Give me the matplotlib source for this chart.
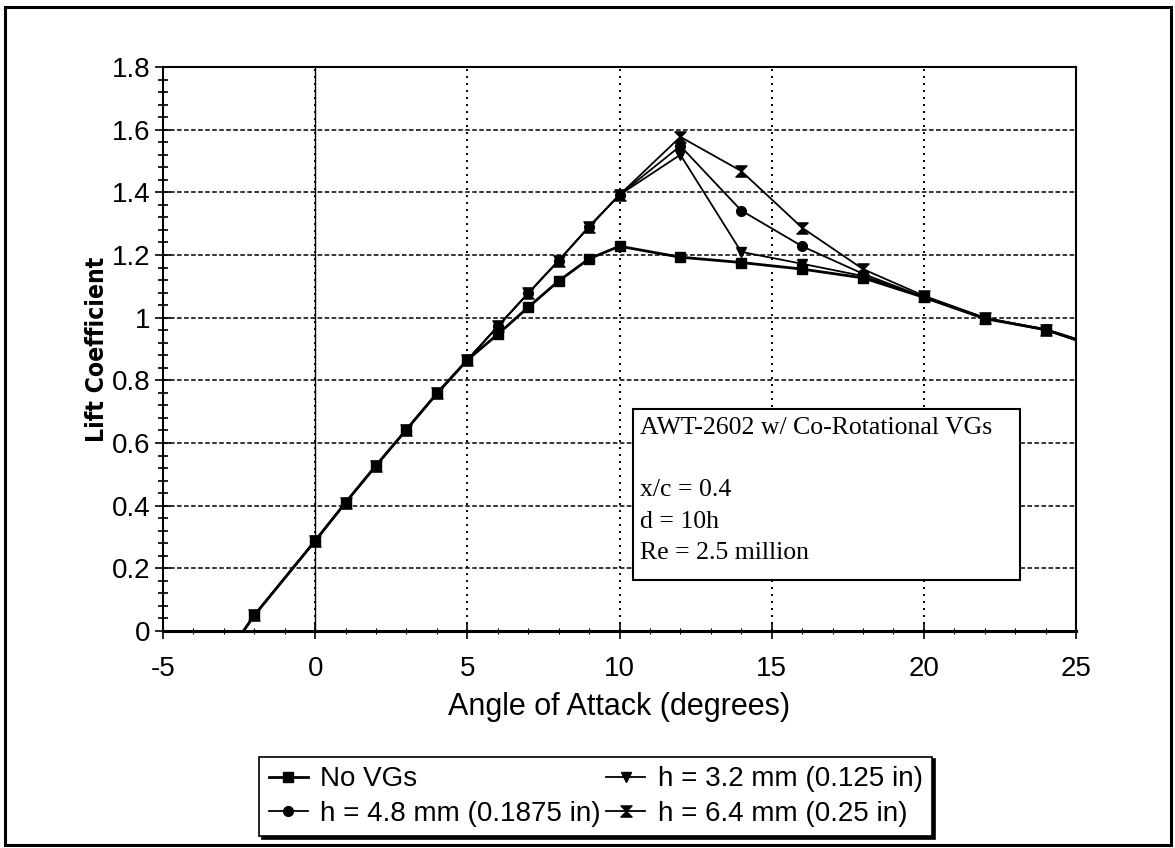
import matplotlib
matplotlib.use("Agg")
import matplotlib.pyplot as plt
from matplotlib import font_manager as fm
from matplotlib.path import Path
from matplotlib.patches import Rectangle
from matplotlib.ticker import MultipleLocator

plt.rcParams['font.family'] = ['Liberation Sans', 'DejaVu Sans']
plt.rcParams['axes.unicode_minus'] = False

# ---- data ----
aoa = [-3, -2, 0, 1, 2, 3, 4, 5, 6, 7, 8, 9, 10, 12, 14, 16, 18, 20, 22, 24, 26]
cl_no_vg = [-0.09, 0.05, 0.288, 0.41, 0.528, 0.643, 0.758, 0.865, 0.947, 1.033, 1.117,
            1.188, 1.228, 1.193, 1.176, 1.155, 1.127, 1.065, 0.997, 0.962, 0.90]
cl_h32 = [-0.09, 0.05, 0.288, 0.41, 0.528, 0.643, 0.758, 0.865, 0.972, 1.078, 1.182,
          1.29, 1.392, 1.52, 1.21, 1.172, 1.133, 1.065, 0.998, 0.960, 0.895]
cl_h48 = [-0.09, 0.05, 0.288, 0.41, 0.528, 0.643, 0.758, 0.865, 0.972, 1.078, 1.182,
          1.29, 1.392, 1.548, 1.342, 1.228, 1.140, 1.066, 0.998, 0.963, 0.90]
cl_h64 = [-0.09, 0.05, 0.288, 0.41, 0.528, 0.643, 0.758, 0.865, 0.972, 1.078, 1.182,
          1.29, 1.392, 1.577, 1.468, 1.287, 1.155, 1.070, 1.000, 0.962, 0.90]

labels = ["No VGs", "h = 3.2 mm (0.125 in)", "h = 4.8 mm (0.1875 in)", "h = 6.4 mm (0.25 in)"]
x_ticks = [-5, 0, 5, 10, 15, 20, 25]
y_ticks = [0, 0.2, 0.4, 0.6, 0.8, 1.0, 1.2, 1.4, 1.6, 1.8]
y_tick_labels = ["0", "0.2", "0.4", "0.6", "0.8", "1", "1.2", "1.4", "1.6", "1.8"]
note_lines = ["AWT-2602 w/ Co-Rotational VGs", "", "x/c = 0.4", "d = 10h", "Re = 2.5 million"]

# hourglass marker
hourglass = Path([(-1, 1), (1, 1), (-1, -1), (1, -1), (-1, 1)],
                 [Path.MOVETO, Path.LINETO, Path.LINETO, Path.LINETO, Path.CLOSEPOLY])


def condensed_bold_font():
    best = None
    for f in fm.fontManager.ttflist:
        nm = f.name.lower()
        narrow = ('narrow' in nm or 'condensed' in nm or
                  str(f.stretch) in ('condensed', 'semi-condensed', 'extra-condensed'))
        bold = str(f.weight) in ('700', '800', '900', 'bold', 'heavy', 'black')
        if narrow and bold and 'serif' not in nm.replace('sans', ''):
            if best is None or 'liberation' in nm:
                best = f
    if best is not None:
        return fm.FontProperties(fname=best.fname)
    return fm.FontProperties(family='Liberation Sans', weight='bold')


fig = plt.figure(figsize=(11.75, 8.48), dpi=100)
ax = fig.add_axes([163/1175, 1-631/848, (1076-163)/1175, (631-67)/848])

ax.set_xlim(-5, 25)
ax.set_ylim(0, 1.8)
ax.set_xticks(x_ticks)
ax.set_yticks(y_ticks)
ax.set_yticklabels(y_tick_labels)
ax.xaxis.set_minor_locator(MultipleLocator(1))
ax.yaxis.set_minor_locator(MultipleLocator(0.04))

ax.set_axisbelow(True)
ax.yaxis.grid(True, which='major', color='black', linestyle=(0, (3, 1.6)), linewidth=1.1)
ax.xaxis.grid(True, which='major', color='black', linestyle=(0, (1, 2.6)), linewidth=1.4)
ax.axvline(0, color='black', linewidth=1.0, zorder=1.5)

for s in ['left', 'right', 'top']:
    ax.spines[s].set_linewidth(1.5)
ax.spines['bottom'].set_linewidth(2.2)

ax.tick_params(axis='y', which='major', direction='inout', length=12, width=1.2,
               labelsize=20, pad=3)
ax.tick_params(axis='y', which='minor', direction='inout', length=7, width=1.2)
ax.tick_params(axis='x', which='major', direction='inout', length=12, width=1.2,
               labelsize=20, pad=12)
ax.tick_params(axis='x', which='minor', direction='inout', length=5, width=0.8)

l0, = ax.plot(aoa, cl_no_vg, color='black', lw=2.0, marker='s', ms=6.5, label=labels[0], zorder=4)
l1, = ax.plot(aoa, cl_h32, color='black', lw=1.3, marker='v', ms=7.5, label=labels[1], zorder=4)
l2, = ax.plot(aoa, cl_h48, color='black', lw=1.3, marker='o', ms=7, label=labels[2], zorder=4)
l3, = ax.plot(aoa, cl_h64, color='black', lw=1.3, marker=hourglass, ms=8, label=labels[3], zorder=4)

ax.set_xlabel("Angle of Attack (degrees)", fontsize=22, labelpad=7)

yfp = condensed_bold_font()
yfp.set_size(19)
ylab = ax.set_ylabel("Lift Coefficient", fontproperties=yfp, labelpad=2)

# annotation box
ax.add_patch(Rectangle((0.515, 0.09), 0.424, 0.304, transform=ax.transAxes,
                       facecolor='white', edgecolor='black', linewidth=1.5, zorder=3))
ax.text(0.5225, 0.380, "\n".join(note_lines), transform=ax.transAxes,
        ha='left', va='top', fontsize=18.5, family=['Liberation Serif', 'DejaVu Serif'],
        linespacing=1.55, zorder=5)

leg = fig.legend([l0, l2, l1, l3], [labels[0], labels[2], labels[1], labels[3]],
                 loc='center', bbox_to_anchor=(0.507, 0.0607), ncol=2, fontsize=20,
                 frameon=True, fancybox=False, edgecolor='black',
                 shadow={'color': 'black', 'alpha': 1},
                 handlelength=1.4, handletextpad=0.45, columnspacing=0.2,
                 labelspacing=0.3, borderpad=0.35, borderaxespad=0)
leg.get_frame().set_linewidth(1.2)

# figure border
fig.add_artist(Rectangle((5/1175, 3/848), 1166/1175, 838/848, transform=fig.transFigure,
                         fill=False, edgecolor='black', linewidth=2.2))

# fit the y label length to the reference
fig.canvas.draw()
bb = ylab.get_window_extent()
if bb.height > 0:
    yfp.set_size(19 * 185.0 / bb.height)
    ylab.set_fontproperties(yfp)

fig.savefig("out.png", dpi=100)
